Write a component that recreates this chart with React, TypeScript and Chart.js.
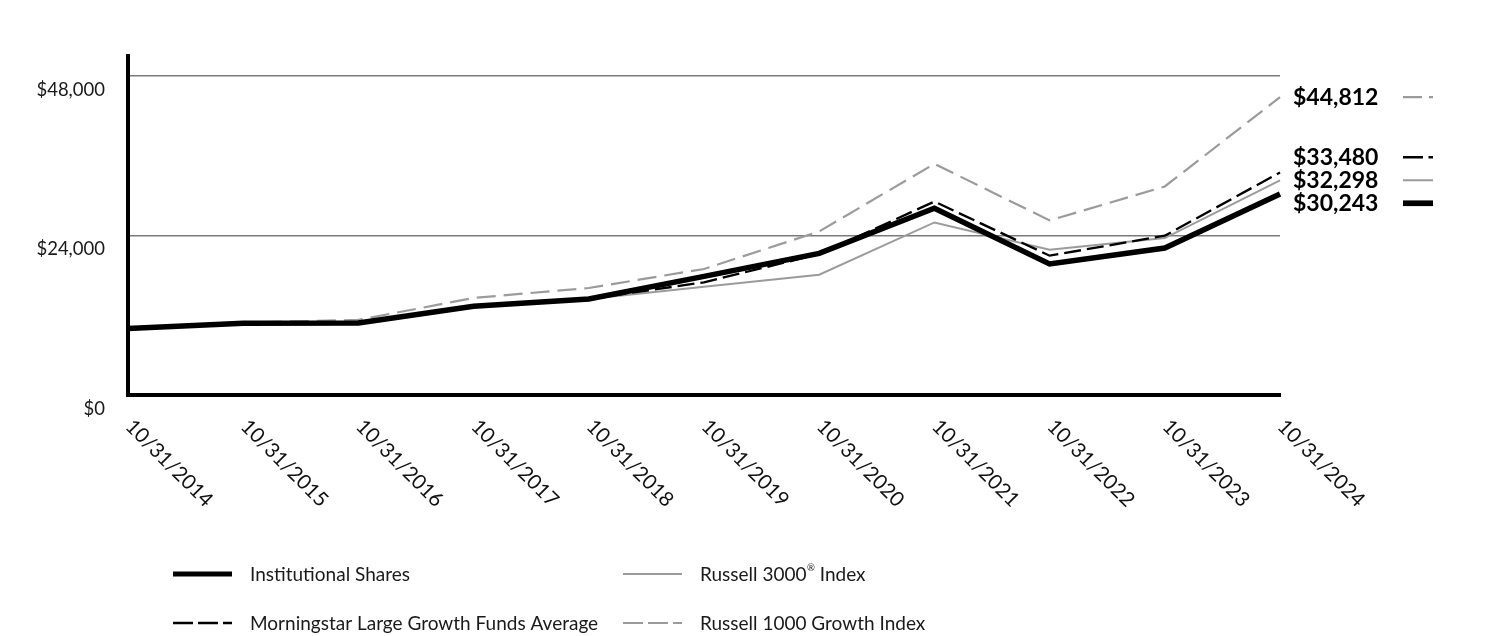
import React, { useEffect, useRef } from "react";
import { Chart, registerables } from "chart.js";

Chart.register(...registerables);

const DATES = [
  "10/31/2014", "10/31/2015", "10/31/2016", "10/31/2017", "10/31/2018", "10/31/2019",
  "10/31/2020", "10/31/2021", "10/31/2022", "10/31/2023", "10/31/2024",
];
const INSTITUTIONAL = [10000, 10800, 10850, 13340, 14450, 17850, 21300, 28100, 19710, 22110, 30243];
const MORNINGSTAR = [10000, 10800, 10900, 13350, 14450, 16950, 21200, 29100, 20960, 23960, 33480];
const RUSSELL3000 = [10000, 10800, 10950, 13350, 14450, 16300, 18100, 25960, 21860, 23610, 32298];
const R1000G = [10000, 10900, 11300, 14600, 16100, 18960, 24610, 34780, 26260, 31370, 44812];
const SERIES_LABELS = [
  "Institutional Shares",
  "Morningstar Large Growth Funds Average",
  "Russell 3000® Index",
  "Russell 1000 Growth Index",
];
const Y_TICKS = [0, 24000, 48000];
const Y_MAX = 51000;

const FONT = "Lato, 'Noto Sans', sans-serif";
const GRAY = "#9b9b9b";

type Style = { color: string; width: number; dash: number[]; legendWidth: number; sampleDash: number[] };
const STYLES: Style[] = [
  { color: "#000", width: 5.5, dash: [], legendWidth: 5, sampleDash: [] },
  { color: "#000", width: 2.3, dash: [17, 6], legendWidth: 2.3, sampleDash: [20, 5.5] },
  { color: GRAY, width: 2, dash: [], legendWidth: 2, sampleDash: [] },
  { color: GRAY, width: 2.2, dash: [19, 8], legendWidth: 2.2, sampleDash: [19, 7] },
];

const fmt = (v: number) => "$" + v.toLocaleString("en-US");

function drawLabel(ctx: CanvasRenderingContext2D, text: string, x: number, y: number, size: number) {
  const parts = text.split("®");
  let cx = x;
  parts.forEach((p, i) => {
    ctx.font = `${size}px ${FONT}`;
    ctx.fillText(p, cx, y);
    cx += ctx.measureText(p).width;
    if (i < parts.length - 1) {
      ctx.font = `${size * 0.5}px ${FONT}`;
      ctx.fillText("®", cx + 0.5, y - size * 0.35);
      cx += ctx.measureText("®").width + 0.5;
    }
  });
}

const overlayPlugin = {
  id: "overlay",
  afterDraw(chart: any) {
    const ctx: CanvasRenderingContext2D = chart.ctx;
    const xs = chart.scales.x;
    const ys = chart.scales.y;
    ctx.save();

    // rotated x tick labels
    ctx.fillStyle = "#111";
    ctx.font = `20.5px ${FONT}`;
    ctx.textAlign = "left";
    ctx.textBaseline = "middle";
    DATES.forEach((d, i) => {
      const px = xs.getPixelForTick(i);
      ctx.save();
      ctx.translate(px + 1, ys.bottom + 28);
      ctx.rotate(Math.PI / 4);
      ctx.fillText(d, 0, 0);
      ctx.restore();
    });

    // end labels with collision avoidance
    const ends = chart.data.datasets.map((ds: any, i: number) => {
      const v = ds.data[ds.data.length - 1] as number;
      return { i, v, y: ys.getPixelForValue(v) };
    });
    ends.sort((a: any, b: any) => a.y - b.y);
    const gap = 23;
    const clusters: any[] = ends.map((e: any) => ({ items: [e], center: e.y }));
    let merged = true;
    while (merged) {
      merged = false;
      for (let k = 0; k < clusters.length - 1; k++) {
        const a = clusters[k], b = clusters[k + 1];
        const aBottom = a.center + ((a.items.length - 1) * gap) / 2;
        const bTop = b.center - ((b.items.length - 1) * gap) / 2;
        if (bTop - aBottom < gap) {
          const items = a.items.concat(b.items);
          const center = items.reduce((s: number, it: any) => s + it.y, 0) / items.length;
          clusters.splice(k, 2, { items, center });
          merged = true;
          break;
        }
      }
    }
    const xText = xs.right + 13;
    const xSample = xs.right + 123;
    clusters.forEach((c: any) => {
      const center = c.items.length > 1 ? c.center - 2 : c.center;
      c.items.forEach((it: any, j: number) => {
        const ly = center + (j - (c.items.length - 1) / 2) * gap;
        const st = STYLES[it.i];
        ctx.fillStyle = "#000";
        ctx.font = `bold 23px ${FONT}`;
        ctx.textAlign = "left";
        ctx.textBaseline = "middle";
        ctx.fillText(fmt(it.v), xText, ly);
        ctx.beginPath();
        ctx.strokeStyle = st.color;
        ctx.lineWidth = st.legendWidth + (it.i === 0 ? 0.7 : 0);
        ctx.setLineDash(st.sampleDash);
        ctx.moveTo(xSample, ly);
        ctx.lineTo(xSample + 30, ly);
        ctx.stroke();
        ctx.setLineDash([]);
      });
    });

    // bottom legend (2 x 2)
    const cols = [173, 623];
    const rows = [574, 623];
    const order = [0, 2, 1, 3];
    order.forEach((dsIndex, k) => {
      const cx = cols[k % 2];
      const cy = rows[Math.floor(k / 2)];
      const st = STYLES[dsIndex];
      ctx.beginPath();
      ctx.strokeStyle = st.color;
      ctx.lineWidth = st.legendWidth;
      ctx.setLineDash(st.sampleDash.length ? [20, 5] : []);
      ctx.moveTo(cx, cy);
      ctx.lineTo(cx + 59, cy);
      ctx.stroke();
      ctx.setLineDash([]);
      ctx.fillStyle = "#1a1a1a";
      ctx.textAlign = "left";
      ctx.textBaseline = "middle";
      drawLabel(ctx, SERIES_LABELS[dsIndex], cx + 77, cy + 1, 19);
    });

    ctx.restore();
  },
};

export default function App() {
  const ref = useRef<HTMLCanvasElement | null>(null);
  useEffect(() => {
    if (!ref.current) return;
    const seriesData = [INSTITUTIONAL, MORNINGSTAR, RUSSELL3000, R1000G];
    const chart = new Chart(ref.current, {
      type: "line",
      data: {
        labels: DATES,
        datasets: seriesData.map((d, i) => ({
          label: SERIES_LABELS[i],
          data: d,
          borderColor: STYLES[i].color,
          borderWidth: STYLES[i].width,
          borderDash: STYLES[i].dash,
          pointRadius: 0,
          pointHoverRadius: 0,
          tension: 0,
          fill: false,
          borderJoinStyle: "miter" as const,
          borderCapStyle: "butt" as const,
        })),
      },
      options: {
        responsive: false,
        animation: false,
        layout: { padding: { left: 0, right: 232, top: 56, bottom: 0 } },
        plugins: { legend: { display: false }, tooltip: { enabled: false } },
        scales: {
          x: {
            type: "category",
            offset: false,
            grid: { display: false },
            border: { display: true, color: "#000", width: 4 },
            ticks: { display: false },
            afterFit: (s: any) => { s.height = 241; },
          },
          y: {
            min: 0,
            max: Y_MAX,
            afterBuildTicks: (s: any) => { s.ticks = Y_TICKS.map((v) => ({ value: v })); },
            afterFit: (s: any) => { s.width = 128; },
            grid: {
              drawTicks: false,
              lineWidth: 1.6,
              color: (c: any) => (c.tick && c.tick.value === 0 ? "rgba(0,0,0,0)" : "#7a7a7a"),
            },
            border: { display: true, color: "#000", width: 4 },
            ticks: {
              padding: 23,
              labelOffset: 14,
              color: "#1a1a1a",
              font: { family: FONT, size: 18.5 },
              callback: (v: any) => fmt(Number(v)),
            },
          },
        },
      },
      plugins: [overlayPlugin],
    });
    return () => chart.destroy();
  }, []);
  return (
    <div style={{ position: "fixed", left: 0, top: 0, width: 1512, height: 636, background: "#fff" }}>
      <canvas ref={ref} width={1512} height={636} style={{ display: "block" }} />
    </div>
  );
}
